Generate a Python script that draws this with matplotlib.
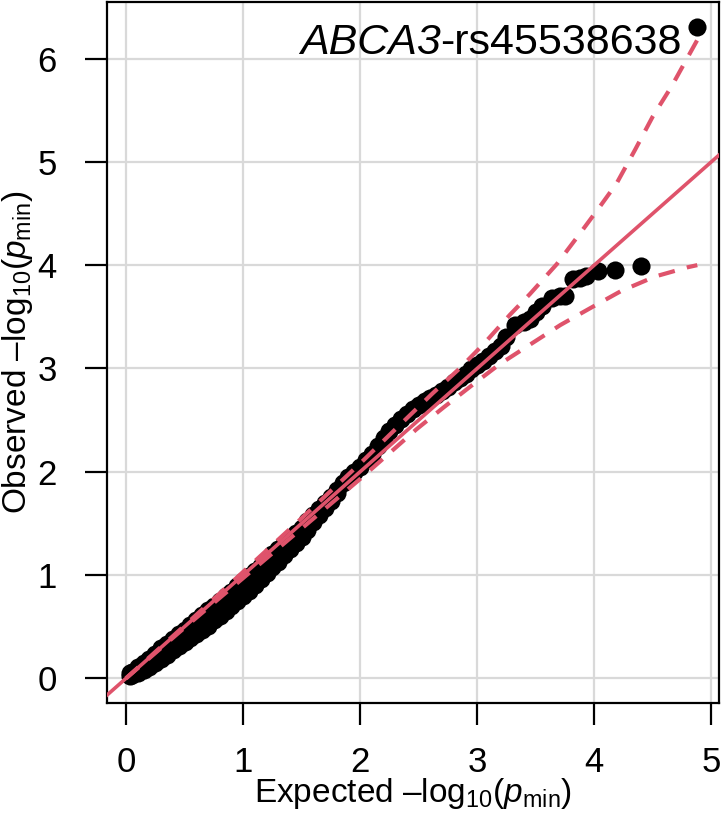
import matplotlib
matplotlib.use("Agg")
import matplotlib.pyplot as plt

plt.rcParams['font.family'] = ['Liberation Sans', 'DejaVu Sans']
plt.rcParams['mathtext.fontset'] = 'custom'
plt.rcParams['mathtext.rm'] = 'Liberation Sans'
plt.rcParams['mathtext.it'] = 'Liberation Sans:italic'

red = '#DF536B'

# observed vs expected -log10(p) (upper and lower edge of the band)
exp_lo = [0.03, 0.05, 0.1, 0.15, 0.2, 0.25, 0.3, 0.35, 0.4, 0.45, 0.5, 0.55, 0.6, 0.65,
          0.7, 0.75, 0.8, 0.85, 0.9, 0.95, 1.0, 1.05, 1.1, 1.15, 1.2, 1.25, 1.3,
          1.35, 1.4, 1.45, 1.5, 1.55, 1.6, 1.65, 1.7, 1.75, 1.8]
obs_up = [0.05, 0.06, 0.11, 0.15, 0.19, 0.24, 0.29, 0.33, 0.38, 0.43, 0.47, 0.52, 0.56, 0.61,
          0.66, 0.7, 0.75, 0.8, 0.84, 0.89, 0.94, 0.99, 1.04, 1.09, 1.14, 1.2, 1.25,
          1.3, 1.35, 1.41, 1.46, 1.52, 1.58, 1.64, 1.7, 1.76, 1.82]
obs_dn = [0.02, 0.03, 0.05, 0.08, 0.11, 0.15, 0.19, 0.23, 0.27, 0.31, 0.35, 0.39, 0.43, 0.47,
          0.51, 0.56, 0.6, 0.65, 0.7, 0.75, 0.8, 0.85, 0.9, 0.96, 1.02, 1.08, 1.13,
          1.19, 1.25, 1.31, 1.37, 1.44, 1.51, 1.58, 1.65, 1.72, 1.79]

exp_hi = [1.85, 1.9, 1.95, 2.0,
          2.05, 2.1, 2.15, 2.2, 2.25, 2.3, 2.35, 2.4, 2.45, 2.5, 2.55, 2.6, 2.65, 2.7,
          2.75, 2.8, 2.85, 2.9, 2.95, 3.0, 3.05, 3.1, 3.15, 3.2, 3.25, 3.32, 3.4, 3.45,
          3.5, 3.55, 3.64, 3.71, 3.75, 3.82, 3.88, 3.93, 4.03, 4.18, 4.40, 4.88]
obs_hi = [1.89, 1.95, 2.0, 2.05,
          2.11, 2.17, 2.25, 2.33, 2.39, 2.45, 2.51, 2.56, 2.61, 2.65, 2.68, 2.71, 2.74, 2.78,
          2.82, 2.87, 2.91, 2.95, 2.99, 3.03, 3.07, 3.12, 3.17, 3.22, 3.3, 3.42, 3.45, 3.48,
          3.55, 3.6, 3.68, 3.7, 3.7, 3.87, 3.88, 3.89, 3.94, 3.95, 3.99, 6.31]

# 95% band, dashed
band_x_up = [0.0, 0.5, 1.0, 1.5, 2.0, 2.3, 2.62, 2.85, 3.05, 3.28, 3.45, 3.68, 3.88,
             4.05, 4.19, 4.35, 4.5, 4.66, 4.88]
band_up = [0.0, 0.51, 1.03, 1.55, 2.08, 2.41, 2.76, 3.0, 3.23, 3.52, 3.72, 4.01, 4.31,
           4.57, 4.79, 5.12, 5.44, 5.73, 6.18]
band_x_lo = [0.0, 0.5, 1.0, 1.5, 2.0, 2.48, 2.71, 2.97, 3.19, 3.45, 3.71, 3.96, 4.23,
             4.52, 4.80, 4.88]
band_lo = [0.0, 0.49, 0.97, 1.45, 1.93, 2.41, 2.62, 2.85, 3.04, 3.23, 3.42, 3.58, 3.75,
           3.89, 3.98, 4.0]

fig = plt.figure(figsize=(7.21, 8.15), dpi=100)
ax = fig.add_axes([0.148, 0.1378, 0.849, 0.8597])

ax.grid(True, color='#D9D9D9', lw=1.6, zorder=0)
ax.set_axisbelow(True)

ax.scatter(exp_lo, obs_up, s=170, color='black', lw=0, zorder=2)
ax.scatter(exp_lo, obs_dn, s=170, color='black', lw=0, zorder=2)
ax.scatter(exp_hi, obs_hi, s=170, color='black', lw=0, zorder=2)

ax.axline((0, 0), slope=1, color=red, lw=2.6, zorder=3)
ax.plot(band_x_up, band_up, color=red, lw=3.0, ls=(0, (4, 3)), zorder=3)
ax.plot(band_x_lo, band_lo, color=red, lw=3.0, ls=(0, (4, 3)), zorder=3)

ax.set_xlim(-0.165, 5.064)
ax.set_ylim(-0.236, 6.547)
ax.set_xticks([0, 1, 2, 3, 4, 5])
ax.set_yticks([0, 1, 2, 3, 4, 5, 6])

for s in ax.spines.values():
    s.set_linewidth(1.6)
ax.tick_params(direction='out', length=16, width=1.6, labelsize=25)
ax.tick_params(axis='x', pad=15)
ax.tick_params(axis='y', pad=20)

ax.set_xlabel(r'Expected –log$_{10}$($p_{\mathrm{min}}$)', fontsize=24, labelpad=-2)
ax.set_ylabel(r'Observed –log$_{10}$($p_{\mathrm{min}}$)', fontsize=24, labelpad=2)

t1 = ax.text(4.75, 5.96, '-rs45538638', fontsize=31, ha='right', va='bottom', zorder=4)
ax.annotate('ABCA3', xy=(0, 0), xycoords=t1, fontsize=31, style='italic',
            ha='right', va='bottom', zorder=4)

fig.savefig('out.png', dpi=100)
